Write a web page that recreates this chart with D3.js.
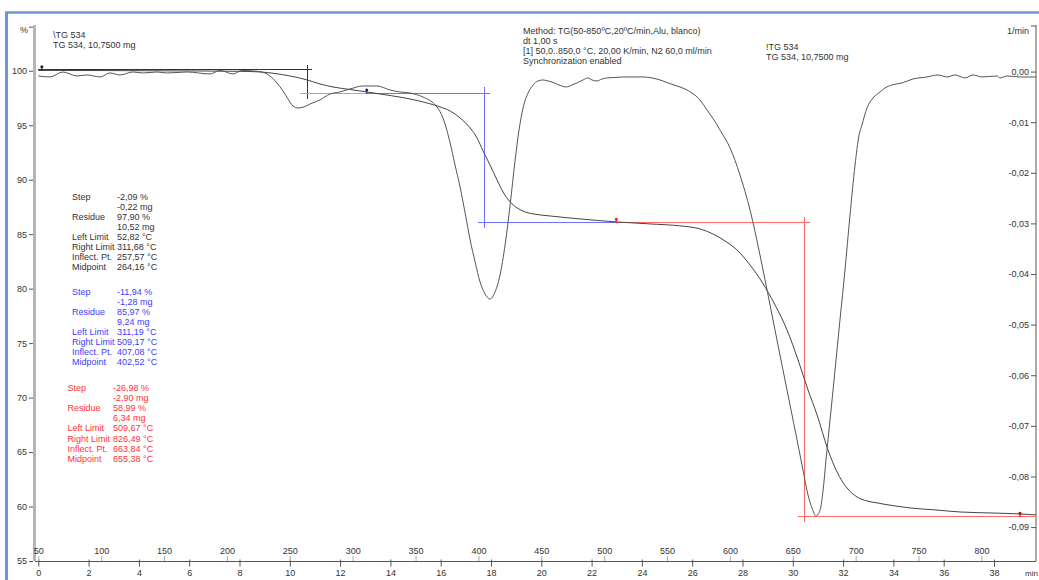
<!DOCTYPE html>
<html><head><meta charset="utf-8">
<script src="https://cdn.jsdelivr.net/npm/d3@7"></script>
<style>
body{margin:0;background:#fff;overflow:hidden;}
svg{display:block;font-family:"Liberation Sans",Arial,sans-serif;font-size:9px;}
</style></head><body>
<svg id="c" width="1039" height="580"></svg>
<script>
// ---------- data ----------
const tgTemp = [50,99.1,138.8,178.6,210.4,226.3,238.2,250.2,263.7,274.0,284.4,297.9,311.4,329.7,345.6,359.2,369.5,377.5,385.4,393.4,398.9,403.7,409.2,414.8,419.6,425.2,430.8,437.1,443.5,457.0,480.9,510.3,536.5,560.4,576.3,586.5,596.1,605.6,616.0,625.5,635.9,645.4,654.2,662.1,669.3,678.0,685.2,693.1,701.1,709.0,717.0,731.3,743.2,763.1,783.0,806.8,830.7,843.4];
const tgMass = [100.03,100.02,100.0,99.98,99.95,99.89,99.75,99.52,99.16,98.79,98.51,98.28,98.05,97.73,97.41,97.04,96.68,96.31,95.67,94.75,93.83,92.64,91.35,89.98,88.87,87.96,87.41,87.04,86.86,86.67,86.40,86.12,85.94,85.76,85.48,85.02,84.38,83.55,82.17,80.61,78.50,76.21,73.45,70.70,68.41,65.19,63.17,61.70,60.88,60.51,60.33,60.05,59.87,59.69,59.50,59.41,59.32,59.23];

const dtgTemp = [50,59.3,69.6,80.8,88.7,99.1,107.0,115.0,125.3,133.3,144.4,152.3,168.3,186.5,194.5,204.8,212.0,220.7,227.9,234.2,239.8,244.6,248.6,252.5,256.5,261.3,266.1,274.0,282.0,289.9,297.9,308.2,319.3,329.7,337.6,345.6,355.9,363.1,367.1,371.8,377.5,381.4,385.4,389.4,393.4,397.4,401.3,405.3,409.2,413.2,417.2,421.2,425.2,429.2,432.3,435.5,439.5,443.5,447.4,451.4,455.4,458.5,464.1,469.7,474.4,478.4,483.2,487.1,490.3,494.3,498.3,502.3,508.6,515.0,522.9,530.9,538.0,544.4,550.8,557.9,564.3,569.8,576.2,581.8,587.3,592.1,600.1,608.0,616.0,623.9,631.9,639.8,647.8,653.4,658.1,662.1,665.3,668.5,671.7,674.1,676.4,679.6,683.6,687.5,691.5,695.5,699.5,702.7,705.0,709.0,713.8,719.4,723.3,728.9,736.8,745.6,756.7,765.5,772.6,779.0,786.9,793.3,800.5,812.4,814.8,820.4,830.7,843.4];
const dtgRate = [-0.00087,-0.00107,-0.00008,-0.00087,-0.00067,-0.00107,-0.00028,-0.00067,-0.00008,-0.00028,-0.00008,-0.00028,-0.00008,-0.00047,0.00022,-0.00047,0.00022,0.00012,-0.00008,-0.00087,-0.00225,-0.00383,-0.00541,-0.00680,-0.00719,-0.00699,-0.00640,-0.00561,-0.00443,-0.00403,-0.00344,-0.00285,-0.00285,-0.00364,-0.00403,-0.00423,-0.00502,-0.00601,-0.00700,-0.00917,-0.01411,-0.01846,-0.02280,-0.02794,-0.03328,-0.03763,-0.04158,-0.04395,-0.04494,-0.04355,-0.04019,-0.03427,-0.02636,-0.01747,-0.01154,-0.00719,-0.00423,-0.00265,-0.00186,-0.00166,-0.00186,-0.00206,-0.00265,-0.00304,-0.00265,-0.00225,-0.00166,-0.00126,-0.00166,-0.00186,-0.00146,-0.00126,-0.00117,-0.00107,-0.00107,-0.00107,-0.00126,-0.00166,-0.00225,-0.00285,-0.00344,-0.00423,-0.00561,-0.00759,-0.00956,-0.01154,-0.01510,-0.02043,-0.02735,-0.03624,-0.04612,-0.05600,-0.06588,-0.07280,-0.07873,-0.08367,-0.08624,-0.08782,-0.08663,-0.08268,-0.07675,-0.06885,-0.05897,-0.04909,-0.03921,-0.02834,-0.01846,-0.01253,-0.01055,-0.00719,-0.00522,-0.00403,-0.00324,-0.00265,-0.00225,-0.00146,-0.00107,-0.00067,-0.00107,-0.00067,-0.00126,-0.00067,-0.00107,-0.00087,-0.00126,-0.00087,-0.00107,-0.00107];

const massTicks = [55,60,65,70,75,80,85,90,95,100];
const rateTicks = [0,-0.01,-0.02,-0.03,-0.04,-0.05,-0.06,-0.07,-0.08,-0.09];
const timeTicks = [0,2,4,6,8,10,12,14,16,18,20,22,24,26,28,30,32,34,36,38];
const tempTicks = [50,100,150,200,250,300,350,400,450,500,550,600,650,700,750,800];

const headerLines = ["Method: TG(50-850ºC,20ºC/min,Alu, blanco)","dt 1,00 s","[1] 50,0..850,0 °C, 20,00 K/min, N2 60,0 ml/min","Synchronization enabled"];
const curveLabelLeft = ["\\TG 534","TG 534, 10,7500 mg"];
const curveLabelRight = ["!TG 534","TG 534, 10,7500 mg"];

const stepLabels = ["Step","","Residue","","Left Limit","Right Limit","Inflect. Pt.","Midpoint"];
const step1Values = ["-2,09 %","-0,22 mg","97,90 %","10,52 mg","52,82 °C","311,68 °C","257,57 °C","264,16 °C"];
const step2Values = ["-11,94 %","-1,28 mg","85,97 %","9,24 mg","311,19 °C","509,17 °C","407,08 °C","402,52 °C"];
const step3Values = ["-26,98 %","-2,90 mg","58,99 %","6,34 mg","509,67 °C","826,49 °C","663,84 °C","655,38 °C"];

// step construction lines in data units: [temp1, mass1, temp2, mass2]
const step1Lines = [[50,100.1,268,100.1],[264.16,100.53,264.16,97.41]];
const step1Residue = [[258,97.92,311.68,97.92]];
const step2Lines = [[311.19,97.95,409,97.95],[405.2,98.5,405.2,85.55],[399.7,86.09,509.17,86.09]];
const step3Lines = [[509.67,86.09,663.7,86.09],[659.6,86.58,659.6,58.59],[654,59.1,843,59.1]];
const markerTemp = [52.82,311.19,509.67,830.7];
const markerMass = [100.1,97.95,86.09,59.1];

// ---------- scales ----------
const svg = d3.select("#c");
const xTime = d3.scaleLinear().domain([0,40]).range([38.3,1044.3]);
const xTemp = d3.scaleLinear().domain([50,850]).range([38.3,1044.3]);
const yL = d3.scaleLinear().domain([55,104.2]).range([561,25]);
const yR = d3.scaleLinear().domain([-0.0967,0.0092]).range([561,25]);

// frame
svg.append("line").attr("x1",5).attr("x2",1039).attr("y1",12.5).attr("y2",12.5).attr("stroke","#6b98cf").attr("stroke-width",2.5);
svg.append("line").attr("x1",6.5).attr("x2",6.5).attr("y1",12).attr("y2",580).attr("stroke","#6b98cf").attr("stroke-width",3);

// left axis
svg.append("line").attr("x1",34.5).attr("x2",34.5).attr("y1",25).attr("y2",561).attr("stroke","#b5b5b5").attr("stroke-width",3);
const gL = svg.append("g").attr("transform","translate(33,0)");
gL.call(d3.axisLeft(yL).tickValues(d3.range(55,105,1)).tickSize(2).tickFormat(""));
gL.call(d3.axisLeft(yL).tickValues(massTicks).tickSize(4).tickPadding(2).tickFormat(d3.format("d")));
gL.selectAll(".domain").remove();
gL.selectAll("line").attr("stroke","#555");
gL.selectAll("text").attr("fill","#333").style("font-size","9px").style("font-family","Liberation Sans, Arial, sans-serif");
svg.append("text").attr("x",28).attr("y",33).attr("text-anchor","end").attr("fill","#333").text("%");
svg.append("line").attr("x1",29).attr("x2",33).attr("y1",yL(104)).attr("y2",yL(104)).attr("stroke","#555");

// right axis
svg.append("line").attr("x1",1036).attr("x2",1036).attr("y1",25).attr("y2",561).attr("stroke","#555");
const gR = svg.append("g").attr("transform","translate(1036,0)");
gR.call(d3.axisLeft(yR).tickValues(d3.range(-96,9,2).map(v=>v/1000)).tickSize(3).tickFormat(""));
gR.call(d3.axisLeft(yR).tickValues(rateTicks).tickSize(5).tickPadding(2)
  .tickFormat(d => (d<0?"-":"")+Math.abs(d).toFixed(2).replace(".",",")));
gR.selectAll(".domain").remove();
gR.selectAll("line").attr("stroke","#555");
gR.selectAll("text").attr("fill","#333").style("font-size","9px").style("font-family","Liberation Sans, Arial, sans-serif");
svg.append("text").attr("x",1029).attr("y",34).attr("text-anchor","end").attr("fill","#333").text("1/min");
svg.append("line").attr("x1",1031).attr("x2",1036).attr("y1",yR(0.009)).attr("y2",yR(0.009)).attr("stroke","#555");

// bottom axes
svg.append("line").attr("x1",35).attr("x2",1036).attr("y1",561.5).attr("y2",561.5).attr("stroke","#555");
const gT = svg.append("g").attr("transform","translate(0,561.5)");
gT.call(d3.axisBottom(xTime).tickValues(d3.range(1,40,2)).tickSizeInner(3).tickSizeOuter(0).tickFormat(""));
gT.call(d3.axisBottom(xTime).tickValues(timeTicks).tickSizeInner(5).tickSizeOuter(0).tickPadding(3).tickFormat(d3.format("d")));
gT.selectAll(".domain").remove();
gT.selectAll("line").attr("stroke","#555").attr("y1",-2);
gT.selectAll("text").attr("fill","#333").style("font-size","9px").style("font-family","Liberation Sans, Arial, sans-serif");
svg.append("text").attr("x",1038).attr("y",576).attr("text-anchor","end").attr("fill","#333").style("font-size","8px").text("min");

const gK = svg.append("g").attr("transform","translate(0,561)");
gK.call(d3.axisTop(xTemp).tickValues(d3.range(75,850,50)).tickSizeInner(3).tickSizeOuter(0).tickFormat(""));
gK.call(d3.axisTop(xTemp).tickValues(tempTicks).tickSizeInner(5).tickSizeOuter(0).tickPadding(2).tickFormat(d3.format("d")));
gK.selectAll(".domain").remove();
gK.selectAll("line").attr("stroke","#aaa");
gK.selectAll("text").attr("fill","#333").style("font-size","9px").style("font-family","Liberation Sans, Arial, sans-serif");

// clip
svg.append("clipPath").attr("id","pc").append("rect").attr("x",36).attr("y",20).attr("width",1000).attr("height",545);
const plot = svg.append("g").attr("clip-path","url(#pc)");

// step construction lines
function seg(arr,color){
  plot.selectAll(null).data(arr).enter().append("line")
    .attr("x1",d=>xTemp(d[0])).attr("y1",d=>yL(d[1])).attr("x2",d=>xTemp(d[2])).attr("y2",d=>yL(d[3]))
    .attr("stroke",color).attr("stroke-width",1).attr("shape-rendering","crispEdges");
}
seg(step1Lines,"#333");
seg(step1Residue,"#aaa");
seg(step2Lines,"#7070ff");
seg(step3Lines,"#ff6a6a");

// curves
const tgData = tgTemp.map((t,i)=>[t,tgMass[i]]);
const dtgData = dtgTemp.map((t,i)=>[t,dtgRate[i]]);
plot.append("path").datum(tgData).attr("fill","none").attr("stroke","#444").attr("stroke-width",1)
  .attr("d",d3.line().x(d=>xTemp(d[0])).y(d=>yL(d[1])).curve(d3.curveMonotoneX));
plot.append("path").datum(dtgData).attr("fill","none").attr("stroke","#555").attr("stroke-width",1)
  .attr("d",d3.line().x(d=>xTemp(d[0])).y(d=>yR(d[1])).curve(d3.curveMonotoneX));

// markers
const mColors = ["#222","#222266","#ee2222","#cc0000"];
markerTemp.forEach((t,i)=>{
  const x = xTemp(t), y = yL(markerMass[i]);
  plot.append("line").attr("x1",x).attr("x2",x).attr("y1",y-3).attr("y2",y+1).attr("stroke",mColors[i]);
  plot.append("circle").attr("cx",x).attr("cy",y-3).attr("r",1.5).attr("fill",mColors[i]);
});

// texts
function block(lines,x,y0,dy,color){
  lines.forEach((s,i)=>svg.append("text").attr("x",x).attr("y",y0+i*dy).attr("fill",color).text(s));
}
block(curveLabelLeft,53,38,10.3,"#333");
block(headerLines,523,34,10,"#333");
block(curveLabelRight,766,50,10,"#333");
block(stepLabels,72,200,10,"#333");
block(step1Values,117,200,10,"#333");
block(stepLabels,72,295,10,"#3d3dff");
block(step2Values,117,295,10,"#3d3dff");
block(stepLabels,67.5,391,10.1,"#ff3333");
block(step3Values,113,391,10.1,"#ff3333");
</script></body></html>
